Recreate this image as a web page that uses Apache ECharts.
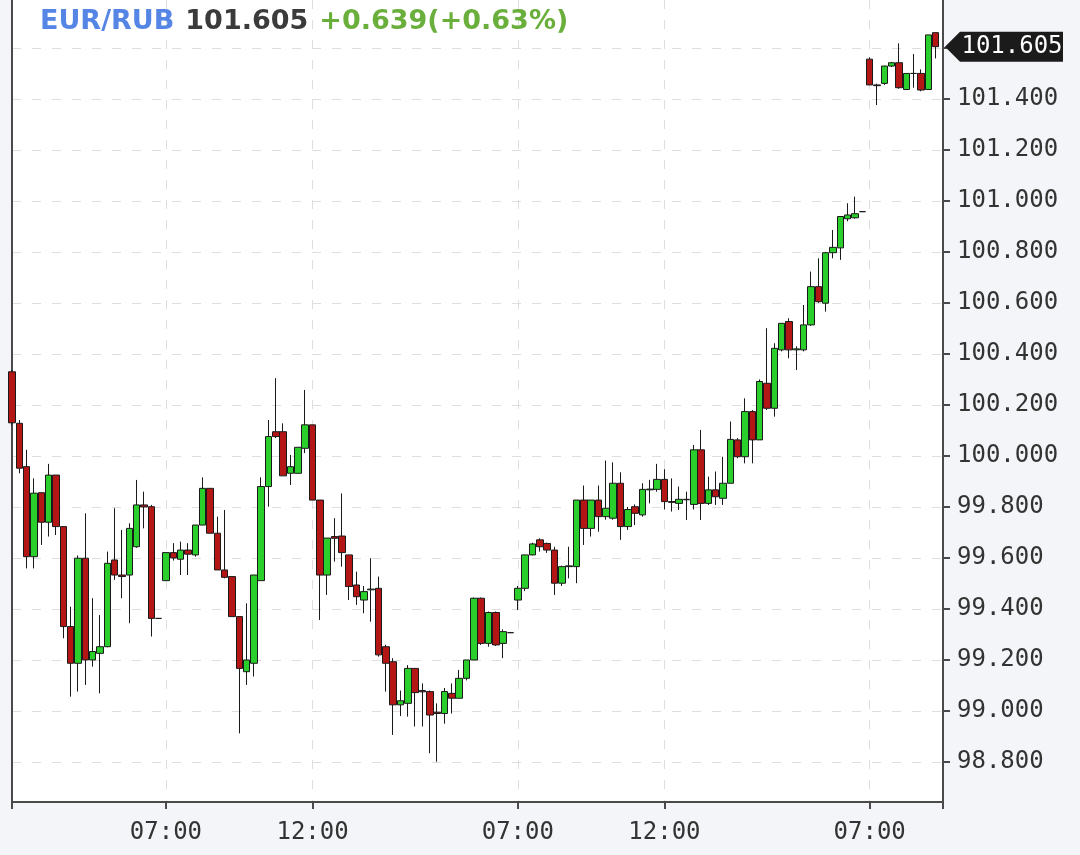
<!DOCTYPE html>
<html><head><meta charset="utf-8">
<script src="https://cdn.jsdelivr.net/npm/echarts@6/dist/echarts.min.js"></script>
<style>html,body{margin:0;padding:0;background:#f3f5f8}#c{width:1080px;height:855px}</style>
</head><body><div id="c"></div><script>
const symbolName = 'EUR/RUB';
const prevClose = 100.966;

const day1Times = ['01:45','02:00','02:15','02:30','02:45',
'03:00','03:15','03:30','03:45','04:00','04:15','04:30','04:45',
'05:00','05:15','05:30','05:45','06:00','06:15','06:30','06:45',
'07:00','07:15','07:30','07:45','08:00','08:15','08:30','08:45',
'09:00','09:15','09:30','09:45','10:00','10:15','10:30','10:45',
'11:00','11:15','11:30','11:45','12:00','12:15','12:30','12:45',
'13:00','13:15','13:30','13:45','14:00','14:15','14:30','14:45',
'15:00','15:15','15:30','15:45','16:00','16:15','16:30','16:45',
'17:00','17:15','17:30','17:45','18:00','18:15','18:30','18:45'];
const day2Times = ['07:00','07:15','07:30','07:45','08:00','08:15','08:30','08:45',
'09:00','09:15','09:30','09:45','10:00','10:15','10:30','10:45',
'11:00','11:15','11:30','11:45','12:00','12:15','12:30','12:45',
'13:00','13:15','13:30','13:45','14:00','14:15','14:30','14:45',
'15:00','15:15','15:30','15:45','16:00','16:15','16:30','16:45',
'17:00','17:15','17:30','17:45','18:00','18:15','18:30','18:45'];
const day3Times = ['07:00','07:15','07:30','07:45','08:00','08:15','08:30','08:45','09:00','09:15','09:30'];

// [open, close, low, high]
const day1 = [
[100.33,100.13,100.12,100.337],[100.128,99.952,99.932,100.141],[99.958,99.605,99.559,100.024],
[99.605,99.854,99.559,99.912],[99.856,99.740,99.651,99.856],[99.740,99.925,99.684,99.969],
[99.925,99.723,99.690,99.925],[99.723,99.331,99.285,99.723],[99.331,99.187,99.056,99.409],
[99.187,99.599,99.076,99.610],[99.599,99.200,99.102,99.775],[99.200,99.233,99.174,99.442],
[99.226,99.252,99.069,99.376],[99.252,99.579,99.250,99.625],[99.592,99.533,99.514,99.795],
[99.533,99.527,99.442,99.710],[99.533,99.716,99.344,99.736],[99.644,99.808,99.640,99.906],
[99.808,99.800,99.716,99.860],[99.801,99.363,99.292,99.808],[99.363,99.363,99.363,99.363],
[99.511,99.621,99.511,99.621],[99.621,99.600,99.590,99.658],[99.595,99.631,99.533,99.664],
[99.631,99.615,99.533,99.658],[99.612,99.729,99.605,99.729],[99.729,99.873,99.729,99.916],
[99.873,99.697,99.697,99.873],[99.697,99.553,99.553,99.762],[99.553,99.524,99.520,99.788],
[99.527,99.370,99.370,99.527],[99.370,99.167,98.912,99.370],[99.154,99.200,99.102,99.422],
[99.187,99.533,99.135,99.533],[99.511,99.880,99.511,99.916],[99.880,100.076,99.801,100.141],
[100.095,100.076,100.070,100.305],[100.095,99.922,99.922,100.128],[99.932,99.958,99.886,100.004],
[99.932,100.034,99.932,100.034],[100.030,100.122,100.011,100.259],[100.122,99.827,99.827,100.122],
[99.827,99.533,99.357,99.827],[99.533,99.678,99.455,99.678],[99.684,99.677,99.586,99.756],
[99.686,99.621,99.566,99.853],[99.612,99.488,99.435,99.612],[99.494,99.448,99.416,99.546],
[99.435,99.468,99.383,99.490],[99.475,99.478,99.350,99.599],[99.481,99.220,99.213,99.527],
[99.252,99.187,99.076,99.260],[99.193,99.024,98.906,99.207],[99.024,99.040,98.980,99.080],
[99.030,99.167,98.978,99.180],[99.167,99.072,98.939,99.167],[99.080,99.075,98.939,99.108],
[99.076,98.984,98.834,99.080],[98.995,98.990,98.801,99.030],[98.990,99.076,98.950,99.090],
[99.069,99.050,98.990,99.108],[99.050,99.128,99.050,99.161],[99.128,99.200,99.120,99.200],
[99.200,99.442,99.200,99.445],[99.442,99.265,99.259,99.445],[99.265,99.386,99.252,99.390],
[99.386,99.259,99.255,99.390],[99.265,99.311,99.207,99.320],[99.307,99.307,99.307,99.307]
];
const day2 = [
[99.435,99.481,99.396,99.490],[99.481,99.612,99.470,99.612],[99.612,99.655,99.610,99.660],
[99.671,99.644,99.625,99.677],[99.657,99.631,99.620,99.660],[99.631,99.501,99.455,99.644],
[99.501,99.566,99.490,99.570],[99.566,99.569,99.520,99.644],[99.566,99.827,99.501,99.827],
[99.827,99.716,99.651,99.884],[99.716,99.827,99.684,99.827],[99.827,99.762,99.703,99.884],
[99.762,99.795,99.750,99.982],[99.756,99.893,99.750,99.975],[99.893,99.723,99.671,99.936],
[99.723,99.790,99.710,99.800],[99.801,99.775,99.729,99.810],[99.769,99.869,99.762,99.893],
[99.867,99.870,99.814,99.906],[99.869,99.908,99.860,99.969],[99.908,99.821,99.790,99.948],
[99.821,99.818,99.782,99.912],[99.814,99.830,99.788,99.880],[99.830,99.828,99.749,99.860],
[99.810,100.024,99.790,100.043],[100.024,99.814,99.749,100.102],[99.814,99.867,99.808,99.919],
[99.867,99.840,99.808,99.939],[99.834,99.893,99.808,99.997],[99.893,100.065,99.893,100.135],
[100.063,99.997,99.991,100.070],[99.997,100.174,99.971,100.226],[100.174,100.063,99.971,100.180],
[100.063,100.292,100.063,100.300],[100.285,100.187,100.180,100.501],[100.187,100.422,100.154,100.442],
[100.416,100.520,100.410,100.520],[100.527,100.416,100.383,100.540],[100.416,100.420,100.337,100.430],
[100.416,100.514,100.410,100.592],[100.514,100.664,100.510,100.723],[100.664,100.605,100.600,100.775],
[100.599,100.797,100.566,100.800],[100.797,100.818,100.775,100.886],[100.816,100.939,100.769,100.940],
[100.930,100.945,100.920,100.991],[100.934,100.950,100.930,101.017],[100.958,100.958,100.958,100.958]
];
const day3 = [
[101.556,101.455,101.455,101.563],[101.455,101.452,101.376,101.460],[101.461,101.529,101.455,101.530],
[101.529,101.542,101.525,101.545],[101.542,101.444,101.440,101.618],[101.437,101.500,101.435,101.500],
[101.500,101.500,101.444,101.576],[101.500,101.435,101.430,101.516],[101.437,101.651,101.437,101.651],
[101.660,101.605,101.559,101.660]
];

const xTickTimes = ['07:00','12:00'];
const yTicks = [98.8,99.0,99.2,99.4,99.6,99.8,100.0,100.2,100.4,100.6,100.8,101.0,101.2,101.4,101.6];
const yLabels = [98.8,99.0,99.2,99.4,99.6,99.8,100.0,100.2,100.4,100.6,100.8,101.0,101.2,101.4];
const yMin = 98.643, yMax = 101.788;

const categories = day1Times.concat(day2Times, day3Times);
const ohlc = day1.concat(day2, day3);
const lastClose = day3[day3.length - 1][1];
const chg = lastClose - prevClose;
const pct = chg / prevClose * 100;
const sign = chg >= 0 ? '+' : '-';

const axisColor = '#4a4a4a';
const gridLine = { color: '#dedede', type: [9, 11], width: 1 };
const isTick = (i, v) => xTickTimes.indexOf(v) >= 0;
const titleFont = { fontSize: 27, fontWeight: 'bold', fontFamily: 'DejaVu Sans' };

const chart = echarts.init(document.getElementById('c'), null, { renderer: 'canvas' });
chart.setOption({
  backgroundColor: '#f3f5f8',
  animation: false,
  title: {
    left: 35, top: 3,
    text: '{a|' + symbolName + '}{b|' + lastClose.toFixed(3) + '}{c|' + sign + Math.abs(chg).toFixed(3) + '(' + sign + Math.abs(pct).toFixed(2) + '%)}',
    textStyle: {
      rich: {
        a: Object.assign({ color: '#5585e5' }, titleFont),
        b: Object.assign({ color: '#3b3b3b', padding: [0, 0, 0, 11] }, titleFont),
        c: Object.assign({ color: '#6aaf3c', padding: [0, 0, 0, 11] }, titleFont)
      }
    }
  },
  grid: { left: 12, right: 137, top: 0, bottom: 53, show: true, backgroundColor: '#ffffff', borderWidth: 0 },
  xAxis: {
    type: 'category', data: categories, boundaryGap: false,
    axisLine: { onZero: false, lineStyle: { color: axisColor, width: 2 } },
    axisTick: { interval: (i, v) => isTick(i, v) || i === 0 || i === categories.length - 1, length: 7, lineStyle: { color: axisColor, width: 2 } },
    axisLabel: { interval: isTick, color: '#333', fontFamily: 'DejaVu Sans Mono', fontSize: 24, margin: 19 },
    splitLine: { show: true, interval: isTick, lineStyle: gridLine }
  },
  yAxis: [{
    type: 'value', position: 'right', min: yMin, max: yMax,
    axisLine: { show: true, onZero: false, lineStyle: { color: axisColor, width: 2 } },
    axisTick: { show: true, customValues: yTicks, length: 7, lineStyle: { color: axisColor, width: 2 } },
    axisLabel: { customValues: yLabels, formatter: v => v.toFixed(3), color: '#333', fontFamily: 'DejaVu Sans Mono', fontSize: 24, margin: 14 },
    splitLine: { show: true, lineStyle: gridLine }
  }, {
    type: 'value', position: 'left', min: yMin, max: yMax,
    axisLine: { show: true, onZero: false, lineStyle: { color: axisColor, width: 2 } },
    axisTick: { show: false }, axisLabel: { show: false }, splitLine: { show: false }
  }],
  series: [{
    type: 'candlestick', data: ohlc, barWidth: 7, yAxisIndex: 0,
    itemStyle: { color: '#2bcf2b', color0: '#b41616', borderColor: '#1a1a1a', borderColor0: '#1a1a1a', borderWidth: 1 },
    markPoint: {
      silent: true,
      symbol: 'path://M0,15 L15,0 L118,0 L118,30 L15,30 Z',
      symbolSize: [118, 30],
      symbolOffset: [61, 0],
      itemStyle: { color: '#1b1b1b' },
      label: { show: true, formatter: lastClose.toFixed(3), color: '#ffffff', fontFamily: 'DejaVu Sans Mono', fontSize: 24, offset: [8, 0] },
      data: [{ coord: [categories.length - 1, lastClose], value: lastClose }]
    }
  }]
});
</script></body></html>
